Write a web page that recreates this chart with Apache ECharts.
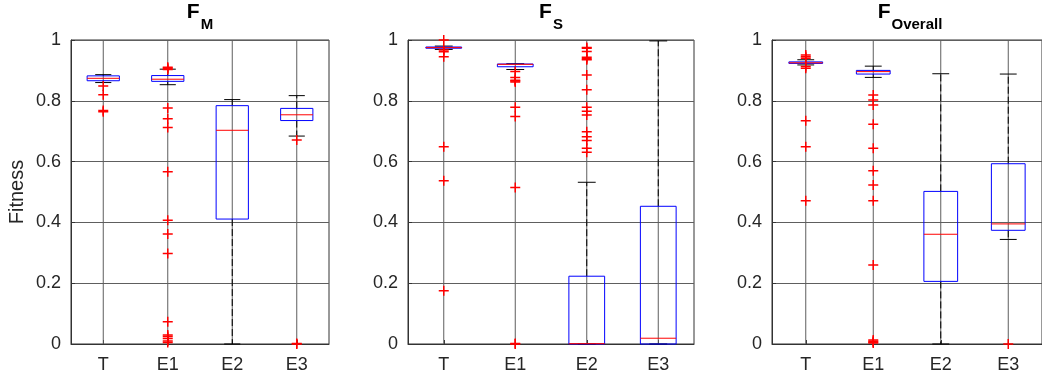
<!DOCTYPE html>
<html>
<head>
<meta charset="utf-8">
<script src="https://cdn.jsdelivr.net/npm/echarts@6/dist/echarts.min.js"></script>
<style>
html,body{margin:0;padding:0;background:#fff;}
#chart{width:1042px;height:381px;}
</style>
</head>
<body>
<div id="chart"></div>
<script>
// ---- data ----
const categories = ['T', 'E1', 'E2', 'E3'];
const titleMain = ['F', 'F', 'F'];
const titleSub = ['M', 'S', 'Overall'];
const yAxisName = 'Fitness';

// box stats per category: [lower whisker, Q1, median, Q3, upper whisker]
const fmStats = [
  [0.860, 0.866, 0.874, 0.882, 0.886],
  [0.853, 0.864, 0.871, 0.883, 0.904],
  [0.000, 0.411, 0.703, 0.784, 0.804],
  [0.684, 0.735, 0.754, 0.775, 0.817]
];
const fsStats = [
  [0.969, 0.973, 0.975, 0.977, 0.980],
  [0.903, 0.912, 0.920, 0.921, 0.922],
  [0.000, 0.000, 0.001, 0.223, 0.532],
  [0.000, 0.000, 0.019, 0.453, 0.997]
];
const foStats = [
  [0.918, 0.923, 0.925, 0.928, 0.935],
  [0.877, 0.888, 0.896, 0.900, 0.914],
  [0.000, 0.206, 0.361, 0.502, 0.889],
  [0.344, 0.374, 0.395, 0.593, 0.888]
];

// outliers: [category index, value]
const fmOutliers = [
  [0, 0.849], [0, 0.820], [0, 0.768], [0, 0.764],
  [1, 0.910], [1, 0.907], [1, 0.903], [1, 0.776], [1, 0.741], [1, 0.712],
  [1, 0.567], [1, 0.407], [1, 0.362], [1, 0.298], [1, 0.073], [1, 0.030],
  [1, 0.025], [1, 0.018], [1, 0.010], [1, 0.005],
  [3, 0.671], [3, 0.002], [3, 0.000]
];
const fsOutliers = [
  [0, 1.000], [0, 1.004], [0, 0.967], [0, 0.961], [0, 0.945], [0, 0.649], [0, 0.537], [0, 0.175],
  [1, 0.896], [1, 0.877], [1, 0.868], [1, 0.865], [1, 0.862], [1, 0.779], [1, 0.748], [1, 0.515],
  [1, 0.002], [1, 0.000],
  [2, 0.975], [2, 0.973], [2, 0.962], [2, 0.943], [2, 0.938], [2, 0.935], [2, 0.885],
  [2, 0.836], [2, 0.779], [2, 0.766], [2, 0.753], [2, 0.698], [2, 0.682], [2, 0.669],
  [2, 0.644], [2, 0.631]
];
const foOutliers = [
  [0, 0.951], [0, 0.945], [0, 0.940], [0, 0.913], [0, 0.907], [0, 0.734], [0, 0.649], [0, 0.471],
  [1, 0.819], [1, 0.803], [1, 0.786], [1, 0.723], [1, 0.644], [1, 0.570], [1, 0.523],
  [1, 0.471], [1, 0.260], [1, 0.013], [1, 0.009], [1, 0.006], [1, 0.003],
  [3, 0.000]
];

// ---- layout / style ----
const FONT = '"Liberation Sans", Arial, Helvetica, sans-serif';
const TXT = '#262626';
const GRIDC = '#5e5e5e';
const grids = [
  { left: 71, top: 40, width: 258, height: 304 },
  { left: 408, top: 40, width: 286, height: 304 },
  { left: 772, top: 40, width: 276, height: 304 }
];
const allStats = [fmStats, fsStats, foStats];
const allOutliers = [fmOutliers, fsOutliers, foOutliers];
const plusPath = 'path://M4.25,0 H5.75 V4.25 H10 V5.75 H5.75 V10 H4.25 V5.75 H0 V4.25 H4.25 Z';

function boxRender(params, api) {
  const x = api.value(0);
  const lw = api.value(1), q1 = api.value(2), med = api.value(3), q3 = api.value(4), uw = api.value(5);
  const band = api.size([1, 0])[0];
  const half = band * 0.25;
  const cap = band * 0.125;
  const pLw = api.coord([x, lw]), pQ1 = api.coord([x, q1]), pMed = api.coord([x, med]);
  const pQ3 = api.coord([x, q3]), pUw = api.coord([x, uw]);
  const cx = pMed[0];
  const dash = { stroke: '#000', lineWidth: 1, lineDash: [7, 3] };
  const solidBlack = { stroke: '#000', lineWidth: 1 };
  return {
    type: 'group',
    children: [
      { type: 'line', shape: { x1: cx, y1: pQ3[1], x2: cx, y2: pUw[1] }, style: dash },
      { type: 'line', shape: { x1: cx, y1: pQ1[1], x2: cx, y2: pLw[1] }, style: dash },
      { type: 'line', shape: { x1: cx - cap, y1: pUw[1], x2: cx + cap, y2: pUw[1] }, style: solidBlack },
      { type: 'line', shape: { x1: cx - cap, y1: pLw[1], x2: cx + cap, y2: pLw[1] }, style: solidBlack },
      { type: 'rect', shape: { x: cx - half, y: pQ3[1], width: 2 * half, height: pQ1[1] - pQ3[1] },
        style: { fill: 'none', stroke: '#0000ff', lineWidth: 1 } },
      { type: 'line', shape: { x1: cx - half, y1: pMed[1], x2: cx + half, y2: pMed[1] },
        style: { stroke: '#ff0000', lineWidth: 1 } }
    ]
  };
}

function vGridRender(params, api) {
  const x = api.value(0);
  const p0 = api.coord([x, 0]), p1 = api.coord([x, 1]);
  return { type: 'line', shape: { x1: p0[0], y1: p0[1], x2: p1[0], y2: p1[1] },
    style: { stroke: GRIDC, lineWidth: 1 } };
}

const option = {
  animation: false,
  backgroundColor: '#fff',
  title: grids.map((g, i) => ({
    text: '{a|' + titleMain[i] + '}{b|' + titleSub[i] + '}',
    left: g.left + g.width / 2,
    textAlign: 'center',
    top: 2,
    padding: 0,
    textStyle: {
      rich: {
        a: { fontFamily: FONT, fontSize: 21, fontWeight: 'bold', color: '#000', lineHeight: 21, verticalAlign: 'top' },
        b: { fontFamily: FONT, fontSize: 15, fontWeight: 'bold', color: '#000', lineHeight: 15, verticalAlign: 'top', padding: [15, 0, 0, 1] }
      }
    }
  })),
  grid: grids.map(g => Object.assign({ show: true, borderColor: '#333', borderWidth: 1, backgroundColor: '#fff' }, g)),
  xAxis: grids.map((g, i) => ({
    type: 'category', gridIndex: i, data: categories, boundaryGap: true,
    axisLine: { show: true, lineStyle: { color: '#333', width: 1 } },
    axisTick: { show: true, alignWithLabel: true, inside: true, length: 4, lineStyle: { color: '#333' } },
    axisLabel: { color: TXT, fontFamily: FONT, fontSize: 18, margin: 12 },
    splitLine: { show: false }
  })),
  yAxis: grids.map((g, i) => ({
    type: 'value', gridIndex: i, min: 0, max: 1, interval: 0.2,
    name: i === 0 ? yAxisName : '',
    nameLocation: 'middle', nameGap: 44, nameRotate: 90,
    nameTextStyle: { color: TXT, fontFamily: FONT, fontSize: 20 },
    axisLine: { show: true, lineStyle: { color: '#333', width: 1 } },
    axisTick: { show: true, inside: true, length: 4, lineStyle: { color: '#333' } },
    axisLabel: { color: TXT, fontFamily: FONT, fontSize: 18, margin: 10 },
    splitLine: { show: true, lineStyle: { color: GRIDC, width: 1 } }
  })),
  series: []
};

for (let i = 0; i < 3; i++) {
  option.series.push({
    type: 'custom', xAxisIndex: i, yAxisIndex: i, z: 1, silent: true,
    renderItem: vGridRender,
    data: categories.map((c, k) => [k])
  });
  option.series.push({
    type: 'custom', xAxisIndex: i, yAxisIndex: i, z: 2, silent: true,
    renderItem: boxRender,
    encode: { x: 0, y: [1, 2, 3, 4, 5] },
    data: allStats[i].map((s, k) => [k].concat(s))
  });
  option.series.push({
    type: 'scatter', xAxisIndex: i, yAxisIndex: i, z: 3, silent: true,
    symbol: plusPath, symbolSize: 10,
    itemStyle: { color: '#ff0000', opacity: 1 },
    data: allOutliers[i]
  });
}

const chart = echarts.init(document.getElementById('chart'), null, { renderer: 'canvas' });
chart.setOption(option);
</script>
</body>
</html>
